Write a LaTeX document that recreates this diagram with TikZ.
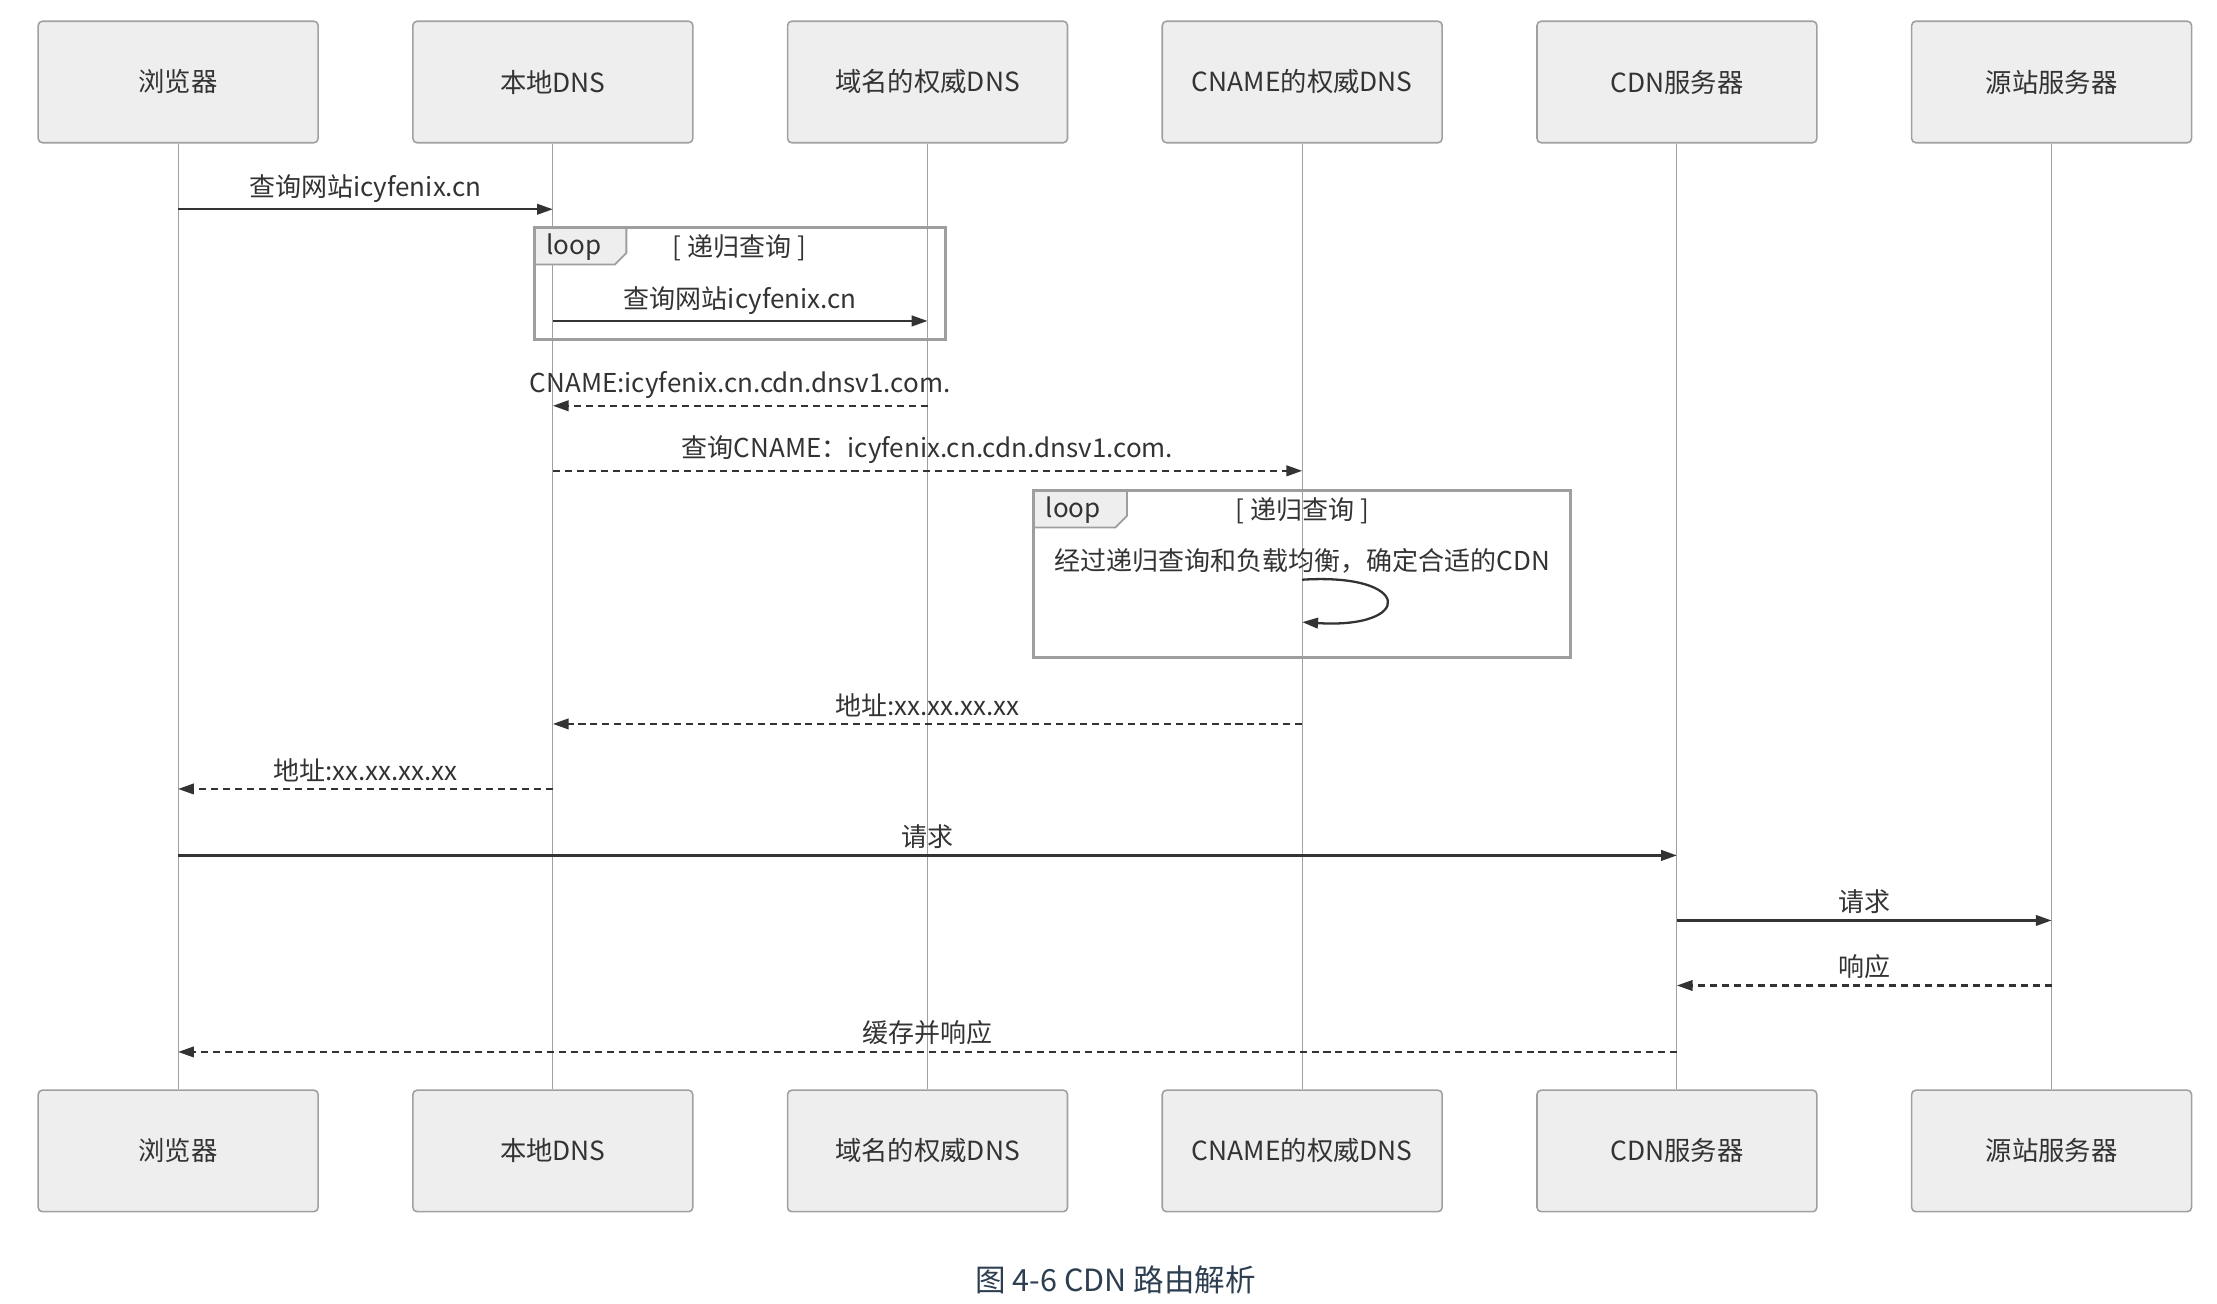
\documentclass[tikz,border=0pt]{standalone}
\usepackage{fontspec}
\setmainfont{Noto Sans CJK SC}
\usetikzlibrary{arrows.meta}
\definecolor{boxgray}{HTML}{EEEEEE}
\definecolor{linegray}{HTML}{A0A0A0}
\definecolor{framegray}{HTML}{9E9E9E}
\definecolor{ink}{HTML}{333333}
\definecolor{capblue}{HTML}{2C3E50}

\begin{document}
\begin{tikzpicture}
			[x=0.014139cm, y=-0.014139cm,
			actor/.style={rectangle, rounded corners=1.2pt, draw=linegray, line width=0.45pt, fill=boxgray, minimum width=2.8cm, minimum height=1.216cm, text=ink, font=\fontsize{7.5}{9}\selectfont},
			life/.style={linegray, line width=0.3pt},
			msg/.style={ink, line width=0.65pt, -{Triangle[length=4.5pt, width=3pt]}},
			reply/.style={msg, dash pattern=on 2pt off 1.4pt},
			txt/.style={text=ink, font=\fontsize{7.4}{8.5}\selectfont, inner sep=0pt},
			lbl/.style={txt, above=1.6pt},
			frame/.style={draw=framegray, line width=0.85pt},
			tab/.style={draw=framegray, line width=0.5pt, fill=boxgray}]
			\useasboundingbox (0,0) rectangle (1568,922);
			\node[actor] (t1) at (126,58) {浏览器};
			\node[actor] (t2) at (391,58) {本地DNS};
			\node[actor] (t3) at (656,58) {域名的权威DNS};
			\node[actor] (t4) at (921,58) {CNAME的权威DNS};
			\node[actor] (t5) at (1186,58) {CDN服务器};
			\node[actor] (t6) at (1451,58) {源站服务器};
			\node[actor] (b1) at (126,814) {浏览器};
			\node[actor] (b2) at (391,814) {本地DNS};
			\node[actor] (b3) at (656,814) {域名的权威DNS};
			\node[actor] (b4) at (921,814) {CNAME的权威DNS};
			\node[actor] (b5) at (1186,814) {CDN服务器};
			\node[actor] (b6) at (1451,814) {源站服务器};
			\draw[life] (t1) -- (b1);
			\draw[life] (t2) -- (b2);
			\draw[life] (t3) -- (b3);
			\draw[life] (t4) -- (b4);
			\draw[life] (t5) -- (b5);
			\draw[life] (t6) -- (b6);
			\coordinate (m1) at (0,148);
			\coordinate (m2) at (0,227);
			\coordinate (m3) at (0,287);
			\coordinate (m4) at (0,333);
			\coordinate (m5) at (0,410);
			\coordinate (m5e) at (0,440);
			\coordinate (m6) at (0,512);
			\coordinate (m7) at (0,558);
			\coordinate (m8) at (0,605);
			\coordinate (m9) at (0,651);
			\coordinate (m10) at (0,697);
			\coordinate (m11) at (0,744);
			\begin{scope}[shift={(378,161)}]
				\draw[tab] (0,0) -- (65,0) -- (65,18) -- (57,26) -- (0,26) -- cycle;
				\draw[frame] (0,0) rectangle (291,79);
				\node[txt] (kw1) at (28,14) {loop};
				\node[txt] (cond1) at (145,14) {[ 递归查询 ]};
			\end{scope}
			\begin{scope}[shift={(731,347)}]
				\draw[tab] (0,0) -- (66,0) -- (66,18) -- (58,26) -- (0,26) -- cycle;
				\draw[frame] (0,0) rectangle (380,118);
				\node[txt] (kw2) at (28,14) {loop};
				\node[txt] (cond2) at (190,14) {[ 递归查询 ]};
			\end{scope}
			\draw[msg] (t1 |- m1) -- (t2 |- m1) node[midway, lbl] {查询网站icyfenix.cn};
			\draw[msg] (t2 |- m2) -- (t3 |- m2) node[midway, lbl] {查询网站icyfenix.cn};
			\draw[reply] (t3 |- m3) -- (t2 |- m3) node[midway, lbl] {CNAME:icyfenix.cn.cdn.dnsv1.com.};
			\draw[reply] (t2 |- m4) -- (t4 |- m4) node[midway, lbl] {查询CNAME：icyfenix.cn.cdn.dnsv1.com.};
			\node[lbl] (self) at (t4 |- m5) {经过递归查询和负载均衡，确定合适的CDN};
			\draw[msg] (t4 |- m5) .. controls +(79,-5) and +(79,5) .. (t4 |- m5e);
			\draw[reply] (t4 |- m6) -- (t2 |- m6) node[midway, lbl] {地址:xx.xx.xx.xx};
			\draw[reply] (t2 |- m7) -- (t1 |- m7) node[midway, lbl] {地址:xx.xx.xx.xx};
			\draw[msg] (t1 |- m8) -- (t5 |- m8) node[midway, lbl] {请求};
			\draw[msg] (t5 |- m9) -- (t6 |- m9) node[midway, lbl] {请求};
			\draw[reply] (t6 |- m10) -- (t5 |- m10) node[midway, lbl] {响应};
			\draw[reply] (t5 |- m11) -- (t1 |- m11) node[midway, lbl] {缓存并响应};
			\node[text=capblue, font=\fontsize{8.7}{10}\selectfont] (cap) at (789,905) {图 4-6 CDN 路由解析};
		\end{tikzpicture}
\end{document}
